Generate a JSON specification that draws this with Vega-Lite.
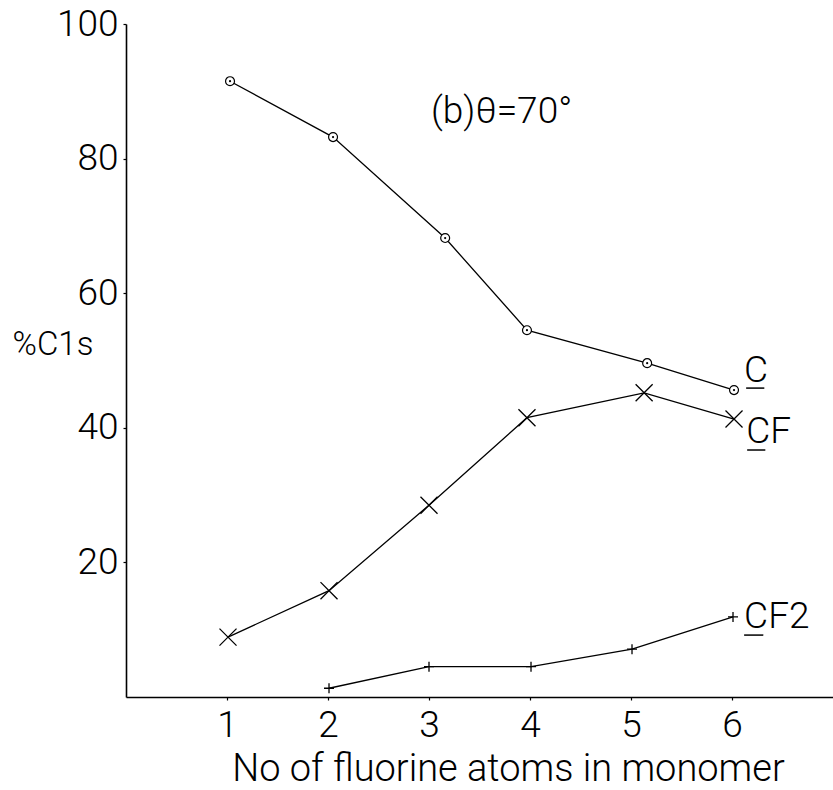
{
  "$schema": "https://vega.github.io/schema/vega-lite/v6.json",
  "width": 707,
  "height": 673,
  "autosize": {"type": "none"},
  "padding": {"left": 126, "top": 24, "right": 0, "bottom": 93},
  "background": "white",
  "config": {
    "view": {"stroke": null},
    "axis": {
      "grid": false,
      "domainColor": "black",
      "domainWidth": 1.6,
      "tickColor": "black",
      "tickSize": 3,
      "tickWidth": 1.2,
      "labelColor": "black",
      "labelFont": "Roboto",
      "labelFontWeight": 300,
      "labelFontSize": 37,
      "titleColor": "black",
      "titleFont": "Roboto",
      "titleFontWeight": 300
    }
  },
  "datasets": {
    "pts": [
      {"series": "C", "n": 1.03, "pct": 91.5},
      {"series": "C", "n": 2.05, "pct": 83.2},
      {"series": "C", "n": 3.16, "pct": 68.2},
      {"series": "C", "n": 3.97, "pct": 54.5},
      {"series": "C", "n": 5.16, "pct": 49.6},
      {"series": "C", "n": 6.02, "pct": 45.6},
      {"series": "CF", "n": 1.01, "pct": 8.9},
      {"series": "CF", "n": 2.01, "pct": 15.8},
      {"series": "CF", "n": 3.0, "pct": 28.5},
      {"series": "CF", "n": 3.97, "pct": 41.5},
      {"series": "CF", "n": 5.13, "pct": 45.2},
      {"series": "CF", "n": 6.02, "pct": 41.3},
      {"series": "CF2", "n": 2.01, "pct": 1.3},
      {"series": "CF2", "n": 3.0, "pct": 4.5},
      {"series": "CF2", "n": 4.01, "pct": 4.5},
      {"series": "CF2", "n": 5.01, "pct": 7.1},
      {"series": "CF2", "n": 6.01, "pct": 11.9}
    ],
    "ann": [
      {"label": "C", "n": 6.12, "pct": 46.8},
      {"label": "CF", "n": 6.14, "pct": 37.7},
      {"label": "CF2", "n": 6.12, "pct": 10.3},
      {"label": "(b)θ=70°", "n": 3.02, "pct": 85.3}
    ],
    "under": [
      {"n": 6.14, "n2": 6.32, "pct": 45.9},
      {"n": 6.15, "n2": 6.33, "pct": 36.7},
      {"n": 6.12, "n2": 6.31, "pct": 9.2}
    ]
  },
  "encoding": {
    "x": {
      "field": "n", "type": "quantitative",
      "scale": {"domain": [0, 7], "nice": false, "zero": false},
      "axis": {
        "values": [1, 2, 3, 4, 5, 6],
        "labelPadding": 7,
        "title": "No of fluorine atoms in monomer",
        "titleFontSize": 38,
        "titleBaseline": "alphabetic",
        "titleX": 382,
        "titleY": 83
      }
    },
    "y": {
      "field": "pct", "type": "quantitative",
      "scale": {"domain": [0, 100], "nice": false},
      "axis": {
        "values": [20, 40, 60, 80, 100],
        "labelPadding": 5,
        "title": "%C1s",
        "titleAngle": 0,
        "titleAlign": "left",
        "titleBaseline": "middle",
        "titleFontSize": 33,
        "titleX": -114,
        "titleY": 320
      }
    }
  },
  "layer": [
    {
      "data": {"name": "pts"},
      "mark": {"type": "line", "color": "black", "strokeWidth": 1.3},
      "encoding": {"detail": {"field": "series"}}
    },
    {
      "data": {"name": "pts"},
      "transform": [{"filter": "datum.series === 'C'"}],
      "mark": {"type": "point", "shape": "circle", "size": 80, "filled": true, "fill": "white", "stroke": "black", "strokeWidth": 1.2, "opacity": 1}
    },
    {
      "data": {"name": "pts"},
      "transform": [{"filter": "datum.series === 'C'"}],
      "mark": {"type": "point", "shape": "circle", "size": 5, "filled": true, "color": "black", "opacity": 1}
    },
    {
      "data": {"name": "pts"},
      "transform": [{"filter": "datum.series === 'CF'"}],
      "mark": {"type": "point", "shape": "M-1,-1L1,1M-1,1L1,-1", "size": 290, "filled": false, "stroke": "black", "strokeWidth": 1.3, "opacity": 1}
    },
    {
      "data": {"name": "pts"},
      "transform": [{"filter": "datum.series === 'CF2'"}],
      "mark": {"type": "point", "shape": "M-1,0L1,0M0,-1L0,1", "size": 100, "filled": false, "stroke": "black", "strokeWidth": 1.3, "opacity": 1}
    },
    {
      "data": {"name": "ann"},
      "mark": {"type": "text", "align": "left", "baseline": "alphabetic", "font": "Roboto", "fontWeight": 300, "fontSize": 37, "color": "black"},
      "encoding": {"text": {"field": "label"}}
    },
    {
      "data": {"name": "under"},
      "mark": {"type": "rule", "color": "black", "strokeWidth": 1.5},
      "encoding": {"x2": {"field": "n2"}}
    }
  ]
}
